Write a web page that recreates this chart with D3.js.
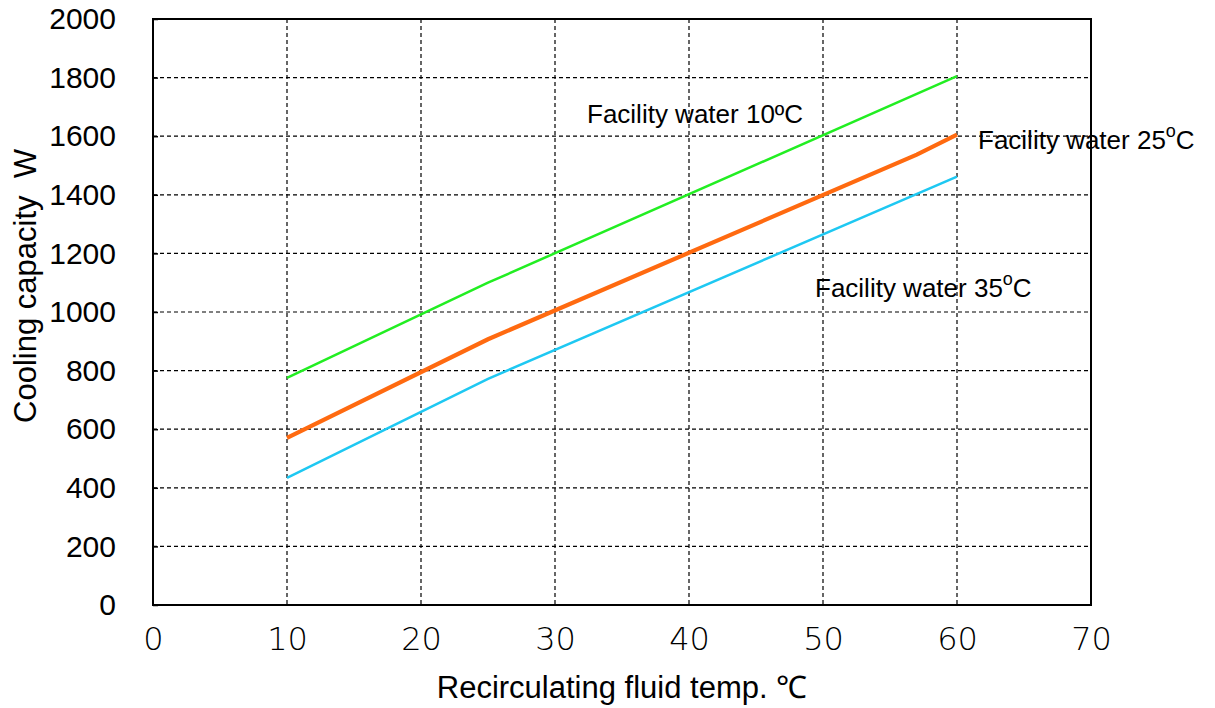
<!DOCTYPE html>
<html>
<head>
<meta charset="utf-8">
<script src="https://cdn.jsdelivr.net/npm/d3@7"></script>
<style>
  html, body { margin: 0; padding: 0; background: #fff; }
  svg { display: block; }
</style>
</head>
<body>
<svg id="chart" width="1215" height="708"></svg>
<script>
// ---- data ----
const xTicks = [0, 10, 20, 30, 40, 50, 60, 70];
const yTicks = [0, 200, 400, 600, 800, 1000, 1200, 1400, 1600, 1800, 2000];

const water10X = [10, 25, 60];
const water10Y = [775, 1100, 1805];

const water25X = [10, 25, 57, 60];
const water25Y = [570, 907, 1537, 1605];

const water35X = [10, 25, 60];
const water35Y = [434, 772, 1462];

const seriesNames = ["Facility water 10", "Facility water 25", "Facility water 35"];

// ---- layout ----
const svg = d3.select("#chart");
const pL = 153, pR = 1091, pT = 19, pB = 605;

const x = d3.scaleLinear().domain([0, 70]).range([pL, pR]);
const y = d3.scaleLinear().domain([0, 2000]).range([pB, pT]);

// grid
const grid = svg.append("g");
grid.selectAll("line.v").data(xTicks.filter(d => d > 0 && d < 70)).enter()
  .append("line")
  .attr("x1", d => x(d)).attr("x2", d => x(d))
  .attr("y1", pT).attr("y2", pB)
  .attr("stroke", "#000").attr("stroke-width", 1.2)
  .attr("stroke-dasharray", "4,3");
grid.selectAll("line.h").data(yTicks.filter(d => d > 0 && d < 2000)).enter()
  .append("line")
  .attr("x1", pL).attr("x2", pR)
  .attr("y1", d => y(d)).attr("y2", d => y(d))
  .attr("stroke", "#000").attr("stroke-width", 1.2)
  .attr("stroke-dasharray", "4,3");

// frame
svg.append("rect")
  .attr("x", pL).attr("y", pT)
  .attr("width", pR - pL).attr("height", pB - pT)
  .attr("fill", "none").attr("stroke", "#000").attr("stroke-width", 2);

// axes (labels only, with small inward ticks)
const yAxis = d3.axisLeft(y).tickValues(yTicks).tickFormat(d3.format("d"))
  .tickSize(-5).tickPadding(37);
const gy = svg.append("g").attr("transform", `translate(${pL},0)`).call(yAxis);
gy.select(".domain").remove();
gy.selectAll("text").attr("font-family", "Liberation Sans, Arial, sans-serif")
  .attr("font-size", 30).attr("fill", "#000");
gy.selectAll("line").attr("stroke", "#000").attr("stroke-width", 1.5);

const xAxis = d3.axisBottom(x).tickValues(xTicks).tickSize(0).tickPadding(22);
const gx = svg.append("g").attr("transform", `translate(0,${pB})`).call(xAxis);
gx.select(".domain").remove();
gx.selectAll("text").attr("font-family", "DejaVu Sans, sans-serif")
  .attr("font-size", 32).attr("font-weight", 200).attr("fill", "#000");

// axis titles
svg.append("text")
  .attr("x", (pL + pR) / 2).attr("y", 698)
  .attr("text-anchor", "middle")
  .attr("font-family", "Liberation Sans, Arial, sans-serif")
  .attr("font-size", 31).attr("fill", "#000")
  .text("Recirculating fluid temp. ℃");

svg.append("text")
  .attr("transform", `translate(36,286) rotate(-90)`)
  .attr("text-anchor", "middle")
  .attr("font-family", "Liberation Sans, Arial, sans-serif")
  .attr("font-size", 31).attr("fill", "#000")
  .attr("xml:space", "preserve")
  .text("Cooling capacity  W");

// lines
const lineGen = d3.line().x(d => x(d[0])).y(d => y(d[1]));
const series = [
  { xs: water10X, ys: water10Y, color: "#22ee22", width: 2.5 },
  { xs: water25X, ys: water25Y, color: "#ff6a10", width: 4.2 },
  { xs: water35X, ys: water35Y, color: "#1ec8f2", width: 2.5 }
];
series.forEach(s => {
  svg.append("path")
    .datum(s.xs.map((v, i) => [v, s.ys[i]]))
    .attr("d", lineGen)
    .attr("fill", "none")
    .attr("stroke", s.color)
    .attr("stroke-width", s.width);
});

// annotations
const labFont = "Liberation Sans, Arial, sans-serif";
const t10 = svg.append("text").attr("x", 587).attr("y", 123)
  .attr("font-family", labFont).attr("font-size", 26).attr("fill", "#000");
t10.append("tspan").text(seriesNames[0]);
t10.append("tspan").text("º");
t10.append("tspan").text("C");

function supLabel(px, py, name) {
  const t = svg.append("text").attr("x", px).attr("y", py)
    .attr("font-family", labFont).attr("font-size", 26).attr("fill", "#000");
  t.append("tspan").text(name);
  t.append("tspan").attr("font-size", 18).attr("dy", -12).text("o");
  t.append("tspan").attr("dy", 12).text("C");
}
supLabel(978, 149, seriesNames[1]);
supLabel(815, 297, seriesNames[2]);
</script>
</body>
</html>
